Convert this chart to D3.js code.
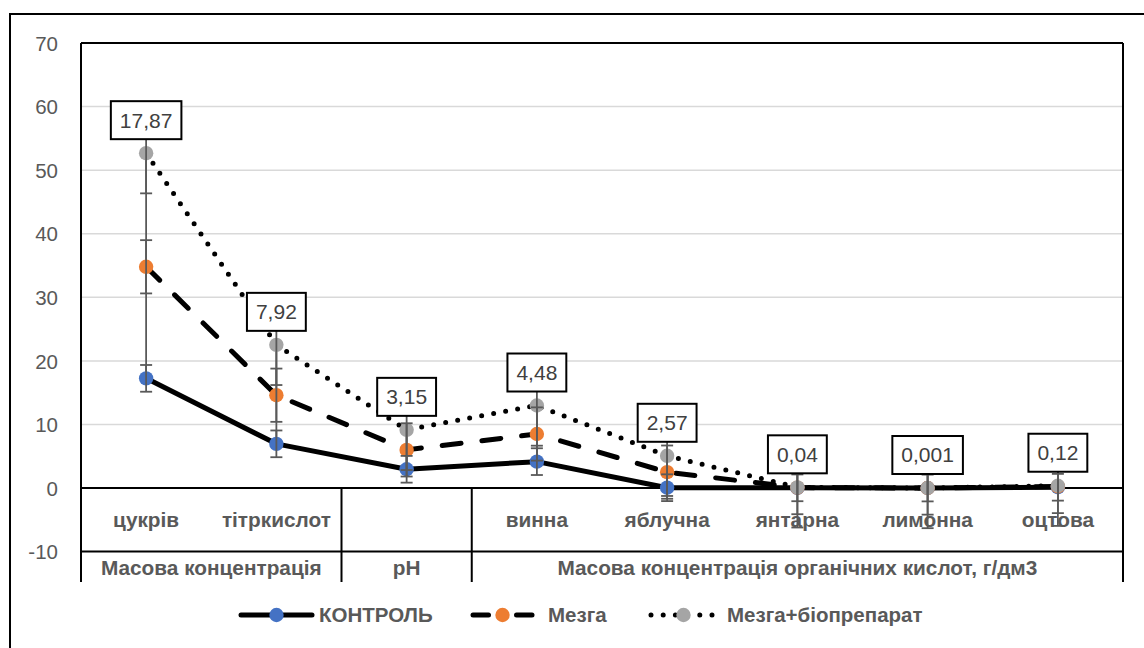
<!DOCTYPE html>
<html>
<head>
<meta charset="utf-8">
<script src="https://cdn.jsdelivr.net/npm/d3@7"></script>
<style>
  html, body { margin: 0; padding: 0; background: #fff; }
  svg { display: block; font-family: "Liberation Sans", Arial, sans-serif; }
</style>
</head>
<body>
<svg id="chart" width="1144" height="648"></svg>
<script>
// Categories and their groups on the two-level category axis
const categories = ["цукрів", "тітркислот", "", "винна", "яблучна", "янтарна", "лимонна", "оцтова"];
const groupNames = ["Масова концентрація", "pH", "Масова концентрація органічних кислот, г/дм3"];
const groupSpans = [[0, 1], [2, 2], [3, 7]];

// Series values (lines are stacked)
const seriesNames = ["КОНТРОЛЬ", "Мезга", "Мезга+біопрепарат"];
const control = [17.25, 6.95, 2.95, 4.15, 0.05, 0.03, 0.001, 0.12];
const mezga   = [17.55, 7.65, 3.05, 4.35, 2.45, 0.04, 0.001, 0.12];
const bio     = [17.87, 7.92, 3.15, 4.48, 2.57, 0.04, 0.001, 0.12];

const yTicks = [-10, 0, 10, 20, 30, 40, 50, 60, 70];

const colors = ["#4472C4", "#ED7D31", "#A5A5A5"];
const dashes = [null, "19,21", "0,12.2"];
const textGrey = "#595959";

// Build rows for d3.stack
const rows = categories.map((c, i) => ({
  idx: i,
  [seriesNames[0]]: control[i],
  [seriesNames[1]]: mezga[i],
  [seriesNames[2]]: bio[i]
}));
const stacked = d3.stack().keys(seriesNames)(rows);

// Standard-error bars: one amount per plotted (stacked) series
const stdErr = stacked.map(s => {
  const vals = s.map(d => d[1]);
  return d3.deviation(vals) / Math.sqrt(vals.length);
});

const svg = d3.select("#chart");

const plot = { left: 81, right: 1123, top: 43 };
const x = d3.scaleBand().domain(d3.range(categories.length)).range([plot.left, plot.right]);
const cx = i => x(i) + x.bandwidth() / 2;
const y = d3.scaleLinear().domain([-10, 70]).range([551.6, 43]);
const axisBottom = 582;
const labelFont = 20.8;

// Outer chart frame
svg.append("rect")
  .attr("x", 10).attr("y", 14).attr("width", 1300).attr("height", 800)
  .attr("fill", "none").attr("stroke", "#000").attr("stroke-width", 2);

// Gridlines
svg.append("g")
  .selectAll("line")
  .data(yTicks.filter(t => t > 0 && t < 70))
  .join("line")
  .attr("x1", plot.left).attr("x2", plot.right)
  .attr("y1", d => y(d)).attr("y2", d => y(d))
  .attr("stroke", "#D9D9D9").attr("stroke-width", 1.5);

// Y axis tick labels
const yAxis = d3.axisLeft(y).tickValues(yTicks).tickSize(0).tickPadding(0).tickFormat(d => String(d));
const yg = svg.append("g").attr("transform", `translate(58,0)`).call(yAxis);
yg.select(".domain").remove();
yg.selectAll("text")
  .attr("font-family", "Liberation Sans, Arial, sans-serif")
  .attr("font-size", 20.5).attr("fill", textGrey).attr("dy", "0.35em");

// Category labels (first level)
svg.append("g")
  .selectAll("text")
  .data(categories)
  .join("text")
  .attr("x", (d, i) => cx(i))
  .attr("y", (y(0) + y(-10)) / 2)
  .attr("dy", "0.35em")
  .attr("text-anchor", "middle")
  .attr("font-size", labelFont).attr("font-weight", "bold").attr("fill", textGrey)
  .text(d => d);

// Group labels (second level)
svg.append("g")
  .selectAll("text")
  .data(groupNames)
  .join("text")
  .attr("x", (d, i) => (x(groupSpans[i][0]) + x(groupSpans[i][1]) + x.bandwidth()) / 2)
  .attr("y", (y(-10) + axisBottom) / 2 + 1)
  .attr("dy", "0.35em")
  .attr("text-anchor", "middle")
  .attr("font-size", labelFont).attr("font-weight", "bold").attr("fill", textGrey)
  .text(d => d);

// Plot area frame and category table
const frame = svg.append("g").attr("stroke", "#000").attr("stroke-width", 2).attr("fill", "none");
frame.append("line").attr("x1", plot.left).attr("x2", plot.right).attr("y1", plot.top).attr("y2", plot.top);
frame.append("line").attr("x1", plot.left).attr("x2", plot.left).attr("y1", plot.top).attr("y2", axisBottom);
frame.append("line").attr("x1", plot.right).attr("x2", plot.right).attr("y1", plot.top).attr("y2", axisBottom);
frame.append("line").attr("x1", plot.left).attr("x2", plot.right).attr("y1", y(0)).attr("y2", y(0));
frame.append("line").attr("x1", plot.left).attr("x2", plot.right).attr("y1", y(-10)).attr("y2", y(-10));
groupSpans.slice(1).forEach(s => {
  const xb = x(s[0]);
  frame.append("line").attr("x1", xb).attr("x2", xb).attr("y1", y(0)).attr("y2", axisBottom);
});

// High-low lines joining the lowest and highest series at each category
svg.append("g")
  .selectAll("line")
  .data(rows)
  .join("line")
  .attr("x1", (d, i) => cx(i)).attr("x2", (d, i) => cx(i))
  .attr("y1", (d, i) => y(stacked[0][i][1]))
  .attr("y2", (d, i) => y(stacked[2][i][1]))
  .attr("stroke", "#595959").attr("stroke-width", 1.8);

// Series lines
const line = d3.line().x((d, i) => cx(i)).y(d => y(d[1]));
stacked.forEach((s, k) => {
  svg.append("path")
    .datum(s)
    .attr("d", line)
    .attr("fill", "none")
    .attr("stroke", "#000")
    .attr("stroke-width", 5)
    .attr("stroke-linecap", "round")
    .attr("stroke-linejoin", "round")
    .attr("stroke-dasharray", dashes[k]);
});

// Markers
stacked.forEach((s, k) => {
  svg.append("g")
    .selectAll("circle")
    .data(s)
    .join("circle")
    .attr("cx", (d, i) => cx(i))
    .attr("cy", d => y(d[1]))
    .attr("r", 7.2)
    .attr("fill", colors[k]);
});

// Error bars
const capHalf = 6;
stacked.forEach((s, k) => {
  const g = svg.append("g").attr("stroke", "#595959").attr("stroke-width", 1.8);
  const e = stdErr[k];
  s.forEach((d, i) => {
    const v = d[1], px = cx(i);
    g.append("line").attr("x1", px).attr("x2", px).attr("y1", y(v + e)).attr("y2", y(v - e));
    [v + e, v - e].forEach(t => {
      g.append("line").attr("x1", px - capHalf).attr("x2", px + capHalf).attr("y1", y(t)).attr("y2", y(t));
    });
  });
});

// Data labels for the top series (its own value)
const fmt = v => String(v).replace(".", ",");
const topSeries = stacked[2];
const lbl = svg.append("g");
topSeries.forEach((d, i) => {
  const px = cx(i), py = y(d[1]);
  const g = lbl.append("g");
  const t = g.append("text")
    .attr("x", px).attr("y", py - 14 - 19)
    .attr("dy", "0.35em")
    .attr("text-anchor", "middle")
    .attr("font-size", 21).attr("fill", "#404040")
    .text(fmt(bio[i]));
  const w = t.node().getComputedTextLength() + 18;
  g.insert("rect", "text")
    .attr("x", px - w / 2).attr("y", py - 14 - 38)
    .attr("width", w).attr("height", 38)
    .attr("fill", "#fff").attr("stroke", "#000").attr("stroke-width", 2);
});

// Legend
const legendY = 615;
const legend = svg.append("g");
const legendItems = [
  { x0: 241, x1: 312, textX: 319 },
  { x0: 471, x1: 534, textX: 548 },
  { x0: 651, x1: 716, textX: 727 }
];
legendItems.forEach((it, k) => {
  const mid = (it.x0 + it.x1) / 2;
  if (k === 1) {
    [[it.x0 + 2, mid - 14], [mid + 14, it.x1 - 2]].forEach(seg => {
      legend.append("line")
        .attr("x1", seg[0]).attr("x2", seg[1]).attr("y1", legendY).attr("y2", legendY)
        .attr("stroke", "#000").attr("stroke-width", 5).attr("stroke-linecap", "round");
    });
  } else {
    legend.append("line")
      .attr("x1", it.x0).attr("x2", it.x1).attr("y1", legendY).attr("y2", legendY)
      .attr("stroke", "#000").attr("stroke-width", 5).attr("stroke-linecap", "round")
      .attr("stroke-dasharray", dashes[k]);
  }
  legend.append("circle").attr("cx", mid).attr("cy", legendY).attr("r", 7.2).attr("fill", colors[k]);
  legend.append("text")
    .attr("x", it.textX).attr("y", legendY).attr("dy", "0.35em")
    .attr("font-size", 20.5).attr("font-weight", "bold").attr("fill", textGrey)
    .text(seriesNames[k]);
});
</script>
</body>
</html>
